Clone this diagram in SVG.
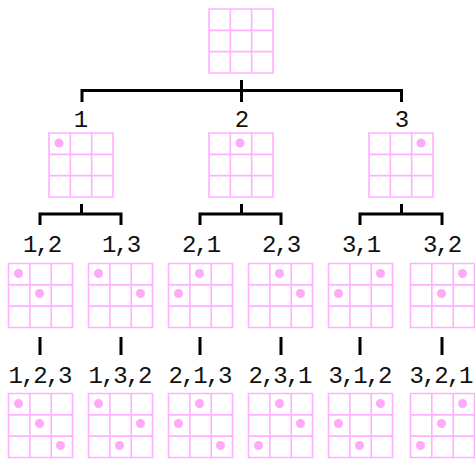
<svg xmlns="http://www.w3.org/2000/svg" xmlns:xlink="http://www.w3.org/1999/xlink" width="475" height="460" viewBox="0 0 475 460">
  <style>
    .grid { fill: none; stroke: #ffb0ff; stroke-width: 1.6; }
    .dot { fill: #ffaaf8; }
    .lbl { font-family: "Liberation Mono", "DejaVu Sans Mono", monospace; font-size: 24px; letter-spacing: -2px; fill: #111; text-anchor: middle; }
    .wire { fill: none; stroke: #000; stroke-width: 3; }
  </style>
  <defs>
    <!-- 3x3 board, 64px square -->
    <path id="board" class="grid" d="M0 0H64V64H0Z M21.33 0V64 M42.67 0V64 M0 21.33H64 M0 42.67H64"/>
  </defs>
  <rect width="475" height="460" fill="#fff"/>

  <!-- tree connectors -->
  <g id="connectors" class="wire">
    <path d="M241.5 80V102 M82 102V90.5H401.5V102"/>
    <path d="M81.5 204V214 M40 225V214H121V225"/>
    <path d="M241.5 204V214 M200 225V214H281V225"/>
    <path d="M401.5 204V214 M360 225V214H442V225"/>
    <path d="M40 337V355 M121 337V355 M200 337V355 M281 337V355 M360 337V355 M442 337V355"/>
  </g>

  <!-- root -->
  <g id="n-root" transform="translate(209,9)">
    <use xlink:href="#board"/>
  </g>

  <!-- depth 1 -->
  <g id="n-1" transform="translate(49,133)">
    <use xlink:href="#board"/>
    <circle class="dot" cx="10" cy="10" r="4.5"/>
    <text class="lbl" x="31" y="-6">1</text>
  </g>
  <g id="n-2" transform="translate(209,133)">
    <use xlink:href="#board"/>
    <circle class="dot" cx="31" cy="10" r="4.5"/>
    <text class="lbl" x="32" y="-6">2</text>
  </g>
  <g id="n-3" transform="translate(369,133)">
    <use xlink:href="#board"/>
    <circle class="dot" cx="52" cy="10" r="4.5"/>
    <text class="lbl" x="32" y="-6">3</text>
  </g>

  <!-- depth 2 -->
  <g id="n-1-2" transform="translate(8.5,263.5)">
    <use xlink:href="#board"/>
    <circle class="dot" cx="10" cy="10" r="4.5"/>
    <circle class="dot" cx="31" cy="30" r="4.5"/>
    <text class="lbl" x="33" y="-12">1,2</text>
  </g>
  <g id="n-1-3" transform="translate(88.5,263.5)">
    <use xlink:href="#board"/>
    <circle class="dot" cx="10" cy="10" r="4.5"/>
    <circle class="dot" cx="52" cy="30" r="4.5"/>
    <text class="lbl" x="32" y="-12">1,3</text>
  </g>
  <g id="n-2-1" transform="translate(168.5,263.5)">
    <use xlink:href="#board"/>
    <circle class="dot" cx="31" cy="10" r="4.5"/>
    <circle class="dot" cx="10" cy="30" r="4.5"/>
    <text class="lbl" x="32" y="-12">2,1</text>
  </g>
  <g id="n-2-3" transform="translate(248.5,263.5)">
    <use xlink:href="#board"/>
    <circle class="dot" cx="31" cy="10" r="4.5"/>
    <circle class="dot" cx="52" cy="30" r="4.5"/>
    <text class="lbl" x="32" y="-12">2,3</text>
  </g>
  <g id="n-3-1" transform="translate(328.5,263.5)">
    <use xlink:href="#board"/>
    <circle class="dot" cx="52" cy="10" r="4.5"/>
    <circle class="dot" cx="10" cy="30" r="4.5"/>
    <text class="lbl" x="32" y="-12">3,1</text>
  </g>
  <g id="n-3-2" transform="translate(410.5,263.5)">
    <use xlink:href="#board"/>
    <circle class="dot" cx="52" cy="10" r="4.5"/>
    <circle class="dot" cx="31" cy="30" r="4.5"/>
    <text class="lbl" x="31" y="-12">3,2</text>
  </g>

  <!-- depth 3 -->
  <g id="n-1-2-3" transform="translate(8.5,393.5)">
    <use xlink:href="#board"/>
    <circle class="dot" cx="10" cy="10" r="4.5"/>
    <circle class="dot" cx="31" cy="30" r="4.5"/>
    <circle class="dot" cx="52" cy="52" r="4.5"/>
    <text class="lbl" x="31" y="-11">1,2,3</text>
  </g>
  <g id="n-1-3-2" transform="translate(88.5,393.5)">
    <use xlink:href="#board"/>
    <circle class="dot" cx="10" cy="10" r="4.5"/>
    <circle class="dot" cx="52" cy="30" r="4.5"/>
    <circle class="dot" cx="31" cy="52" r="4.5"/>
    <text class="lbl" x="31" y="-11">1,3,2</text>
  </g>
  <g id="n-2-1-3" transform="translate(168.5,393.5)">
    <use xlink:href="#board"/>
    <circle class="dot" cx="31" cy="10" r="4.5"/>
    <circle class="dot" cx="10" cy="30" r="4.5"/>
    <circle class="dot" cx="52" cy="52" r="4.5"/>
    <text class="lbl" x="31" y="-11">2,1,3</text>
  </g>
  <g id="n-2-3-1" transform="translate(248.5,393.5)">
    <use xlink:href="#board"/>
    <circle class="dot" cx="31" cy="10" r="4.5"/>
    <circle class="dot" cx="52" cy="30" r="4.5"/>
    <circle class="dot" cx="10" cy="52" r="4.5"/>
    <text class="lbl" x="31" y="-11">2,3,1</text>
  </g>
  <g id="n-3-1-2" transform="translate(328.5,393.5)">
    <use xlink:href="#board"/>
    <circle class="dot" cx="52" cy="10" r="4.5"/>
    <circle class="dot" cx="10" cy="30" r="4.5"/>
    <circle class="dot" cx="31" cy="52" r="4.5"/>
    <text class="lbl" x="31" y="-11">3,1,2</text>
  </g>
  <g id="n-3-2-1" transform="translate(410.5,393.5)">
    <use xlink:href="#board"/>
    <circle class="dot" cx="52" cy="10" r="4.5"/>
    <circle class="dot" cx="31" cy="30" r="4.5"/>
    <circle class="dot" cx="10" cy="52" r="4.5"/>
    <text class="lbl" x="30" y="-11">3,2,1</text>
  </g>
</svg>
